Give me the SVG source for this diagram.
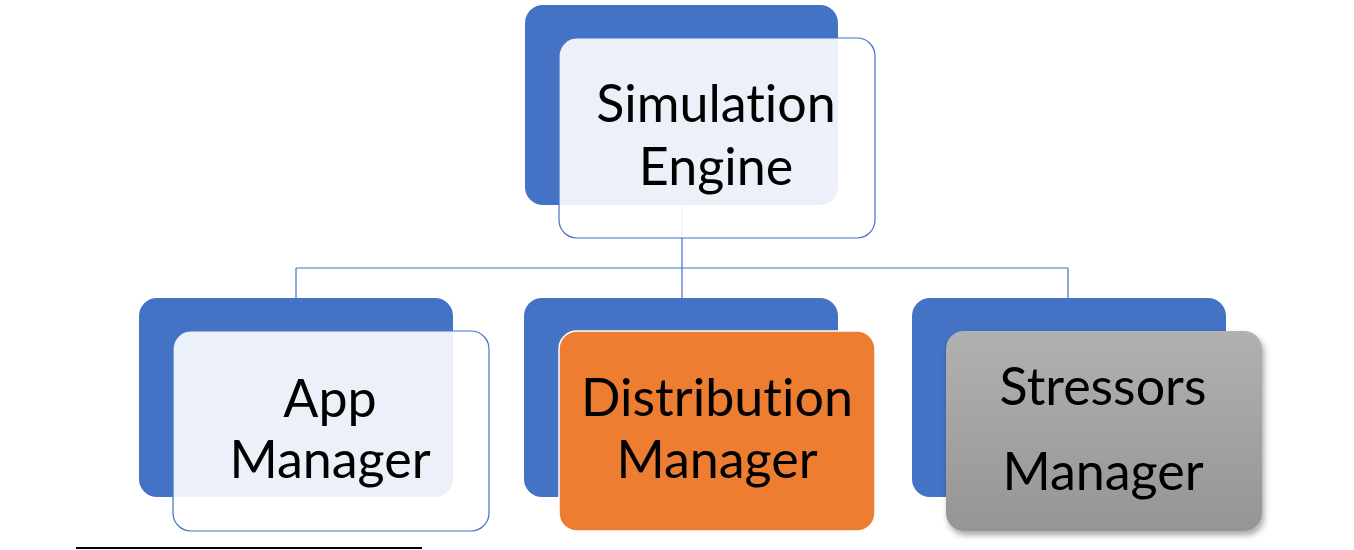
<svg xmlns="http://www.w3.org/2000/svg" width="1354" height="550" viewBox="0 0 1354 550">
<style>
.back{fill:#4472C4;}
.front{fill:#FFFFFF;fill-opacity:0.9;stroke:#4472C4;stroke-width:1.2;}
.lbl{font-family:Lato,"Open Sans",sans-serif;font-size:52px;fill:#000;text-anchor:middle;font-variant-ligatures:none;}
.conn{stroke:#4472C4;stroke-width:1.2;fill:none;}
</style>
<defs>
<linearGradient id="gray" x1="0" y1="0" x2="0" y2="1">
<stop offset="0" stop-color="#B1B1B1"/>
<stop offset="1" stop-color="#959595"/>
</linearGradient>
<filter id="shadow" x="-10%" y="-10%" width="125%" height="130%">
<feDropShadow dx="2" dy="4" stdDeviation="3" flood-color="#000" flood-opacity="0.35"/>
</filter>
</defs>
<g id="connectors">
<path class="conn" d="M682 205V268M296 268H1068M296 268V298M682 268V298M1068 268V298"/>
</g>
<g id="simulation-engine">
<rect class="back" x="525" y="5" width="313" height="200" rx="18"/>
<rect class="front" x="559" y="38" width="316" height="200" rx="18"/>
<text class="lbl" x="716" y="122">Simulation</text>
<text class="lbl" x="716" y="185">Engine</text>
</g>
<g id="app-manager">
<rect class="back" x="139" y="298" width="314" height="199" rx="18"/>
<rect class="front" x="173" y="331" width="316" height="200" rx="18"/>
<text class="lbl" x="330" y="417">App</text>
<text class="lbl" x="330" y="478">Manager</text>
</g>
<g id="distribution-manager">
<rect class="back" x="524" y="298" width="314" height="199" rx="18"/>
<rect x="559" y="331" width="316" height="200" rx="18" fill="#ED7D31" stroke="#FFFFFF" stroke-width="1.5"/>
<text class="lbl" x="717" y="416">Distribution</text>
<text class="lbl" x="717" y="478">Manager</text>
</g>
<g id="stressors-manager">
<rect class="back" x="912" y="298" width="314" height="199" rx="18"/>
<rect x="946" y="331" width="316" height="200" rx="18" fill="url(#gray)" filter="url(#shadow)"/>
<text class="lbl" x="1103" y="405">Stressors</text>
<text class="lbl" x="1103" y="490">Manager</text>
</g>
<line x1="76" y1="548" x2="422" y2="548" stroke="#000" stroke-width="2"/>
</svg>
